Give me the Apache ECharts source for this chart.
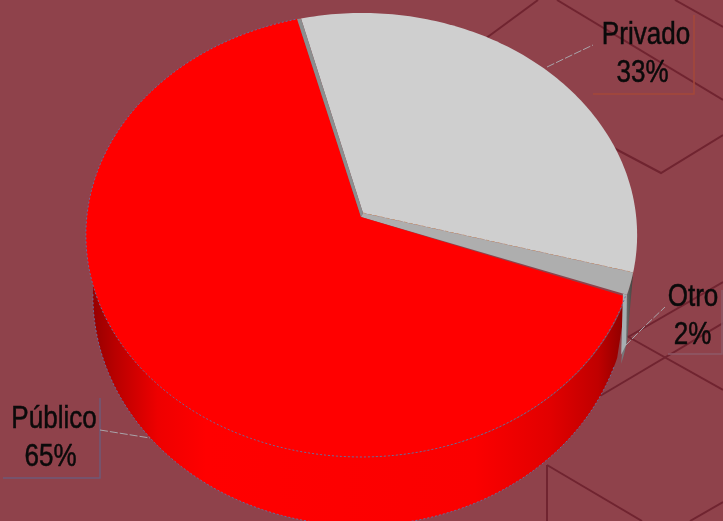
<!DOCTYPE html>
<html>
<head>
<meta charset="utf-8">
<style>
html,body{margin:0;padding:0;background:#8f424b;overflow:hidden}
#chart{width:723px;height:521px;filter:blur(0.35px)}
</style>
<script src="https://cdn.jsdelivr.net/npm/echarts@6/dist/echarts.min.js"></script>
</head>
<body>
<div id="chart"></div>
<script>
// Data
const categories = ['Privado', 'Otro', 'Público'];
const shares = [33, 1.6, 65.4];
const shareLabels = ['33%', '2%', '65%'];

// Styles
const sliceColors = ['#cfcfcf', '#aeaeae', '#ff0000'];
const START_ANGLE = -14;
const TOP = {x0: 362, y0: 215, A: 220.2, B: 274, k: -0.09};
const BOTTOM = {x0: 360, y0: 275, A: 228, B: 266, k: -0.09};

function project(p, deg, dx, dy) {
  const r = deg * Math.PI / 180, x = Math.sin(r), y = -Math.cos(r), d = 1 + p.k * y;
  return [p.x0 + p.B * x / d + (dx || 0), p.y0 + p.A * y / d + (dy || 0)];
}
function arc(p, a, b, dx, dy) {
  const pts = [], n = Math.max(2, Math.ceil(Math.abs(b - a)));
  for (let i = 0; i <= n; i++) pts.push(project(p, a + (b - a) * i / n, dx, dy));
  return pts;
}
const total = shares.reduce((s, v) => s + v, 0);
function range(i) {
  let a = START_ANGLE;
  for (let j = 0; j < i; j++) a += shares[j] / total * 360;
  return [a, a + shares[i] / total * 360];
}

const backdrop = [
  [[470,50],[538,0]], [[557,0],[723,100]], [[675,0],[723,27]],
  [[610,146],[661,173],[723,135]],
  [[628,337],[723,282]], [[625,335],[723,390]], [[600,396],[723,323]],
  [[547,465],[547,521]], [[547,465],[642,521]], [[690,521],[723,502]]
];
const labelPlacement = [
  {x: 646, x2: 642.5, y1: 35, y2: 73, line: [[547,67],[572,55],[593,45]], box: [[694,15],[694,94],[593,94]], boxColor: '#a5483a'},
  {x: 693, x2: 692.5, y1: 297, y2: 335, line: [[625,346],[645,326],[665,307]], box: [[722,290],[722,354],[668,354]], boxColor: '#8f5a68'},
  {x: 54, x2: 50.5, y1: 419, y2: 457, line: [[100,430],[125,434],[150,438]], box: [[100,398],[100,478],[3,478]], boxColor: '#6f5a78'}
];

const wallGradient = {
  type: 'linear', x: 88, y: 0, x2: 625, y2: 0, global: true,
  colorStops: [
    {offset: 0, color: '#8f0000'}, {offset: 0.05, color: '#b80000'},
    {offset: 0.13, color: '#ee0000'}, {offset: 0.22, color: '#ff0000'},
    {offset: 0.72, color: '#fb0000'}, {offset: 0.86, color: '#e20000'},
    {offset: 0.95, color: '#c00000'}, {offset: 1, color: '#8c0000'}
  ]
};

function renderWall(params) {
  const i = params.dataIndex, [a, b] = range(i);
  if (i === 0) return {type: 'group', children: []};
  const fill = i === 2 ? wallGradient : {
    type: 'linear', x: 624, y: 0, x2: 634, y2: 0, global: true,
    colorStops: [{offset: 0, color: '#77777a'}, {offset: 1, color: '#3c3a34'}]
  };
  const pts = arc(TOP, a, b).concat(arc(BOTTOM, a, b, i === 1 ? 4 : 0, i === 1 ? 6 : 0).reverse());
  return {type: 'polygon', shape: {points: pts}, style: {fill: fill}};
}

function renderTop(params) {
  const i = params.dataIndex, [a, b] = range(i);
  const whiteApex = [TOP.x0 + 1, TOP.y0 - 2];
  const redApex = [TOP.x0 - 1, TOP.y0 + 2];
  const aa = i === 2 ? a + 0.4 : a, bb = i === 2 ? b - 0.7 : b;
  const pts = arc(TOP, aa, bb, i === 2 ? -1 : 0, 0);
  const children = [];
  if (i === 0) pts.push(whiteApex);
  if (i === 1) { pts.push(redApex); pts.push(whiteApex); }
  if (i === 2) pts.push(redApex);
  children.push({type: 'polygon', shape: {points: pts}, style: {fill: sliceColors[i]}});
  if (i === 2) {
    // cut face between the red slice and the light slice
    const [pa] = range(0);
    const w = project(TOP, pa), r = project(TOP, bb, -1, 0);
    children.push({type: 'polygon',
      shape: {points: [w, whiteApex, redApex, r]},
      style: {fill: '#8b8f8f'}});
    // cut face of the grey slice at the front
    const [, ob] = range(1);
    const t = project(TOP, ob), l = project(BOTTOM, ob);
    children.push({type: 'polygon',
      shape: {points: [[t[0] - 4, t[1] - 1], t, [l[0] + 9, l[1] - 13], [l[0] + 4, l[1] - 3]]},
      style: {fill: '#a6afb2'}});
    // dotted rims on the red slice
    children.push({type: 'polyline', shape: {points: arc(TOP, aa, bb, -1, 0)},
      style: {fill: null, stroke: '#6f6a98', lineWidth: 1, lineDash: [2, 2]}});
    children.push({type: 'polyline', shape: {points: arc(BOTTOM, aa + 2, bb - 80)},
      style: {fill: null, stroke: '#6f6a98', lineWidth: 1, lineDash: [2, 2]}});
  }
  if (i === 0) {
    children.push({type: 'polyline', shape: {points: [whiteApex, project(TOP, b)]},
      style: {fill: null, stroke: '#c98a5c', lineWidth: 1, lineDash: [3, 3]}});
  }
  return {type: 'group', children: children};
}

function renderLabel(params) {
  const i = params.dataIndex, p = labelPlacement[i];
  const text = (s, x, y) => ({
    type: 'text', x: x, y: y, scaleX: 0.84, originX: 0, originY: 0,
    style: {text: s, x: 0, y: 0, fill: '#0a0a0a', stroke: '#0a0a0a', lineWidth: 0.5,
            align: 'center', verticalAlign: 'middle',
            font: '31px "Liberation Sans", Arial, sans-serif'}
  });
  return {type: 'group', children: [
    {type: 'polyline', shape: {points: p.box}, style: {fill: null, stroke: p.boxColor, lineWidth: 1.5}},
    {type: 'polyline', shape: {points: p.line},
     style: {fill: null, stroke: '#a9a4aa', lineWidth: 1, lineDash: [8, 2]}},
    text(categories[i], p.x, p.y1),
    text(shareLabels[i], p.x2, p.y2)
  ]};
}

const sliceData = categories.map((name, i) => ({name: name, value: shares[i]}));
const chart = echarts.init(document.getElementById('chart'), null, {renderer: 'canvas'});
chart.setOption({
  animation: false,
  backgroundColor: '#8f424b',
  graphic: backdrop.map(pts => ({
    type: 'polyline', silent: true, z: 0, shape: {points: pts},
    style: {fill: null, stroke: '#702430', lineWidth: 2}
  })),
  tooltip: {show: false},
  series: [
    {type: 'custom', coordinateSystem: 'none', z: 2, data: sliceData, renderItem: renderWall},
    {type: 'custom', coordinateSystem: 'none', z: 3, data: sliceData, renderItem: renderTop},
    {type: 'custom', coordinateSystem: 'none', z: 4, data: sliceData, renderItem: renderLabel}
  ]
});
</script>
</body>
</html>
